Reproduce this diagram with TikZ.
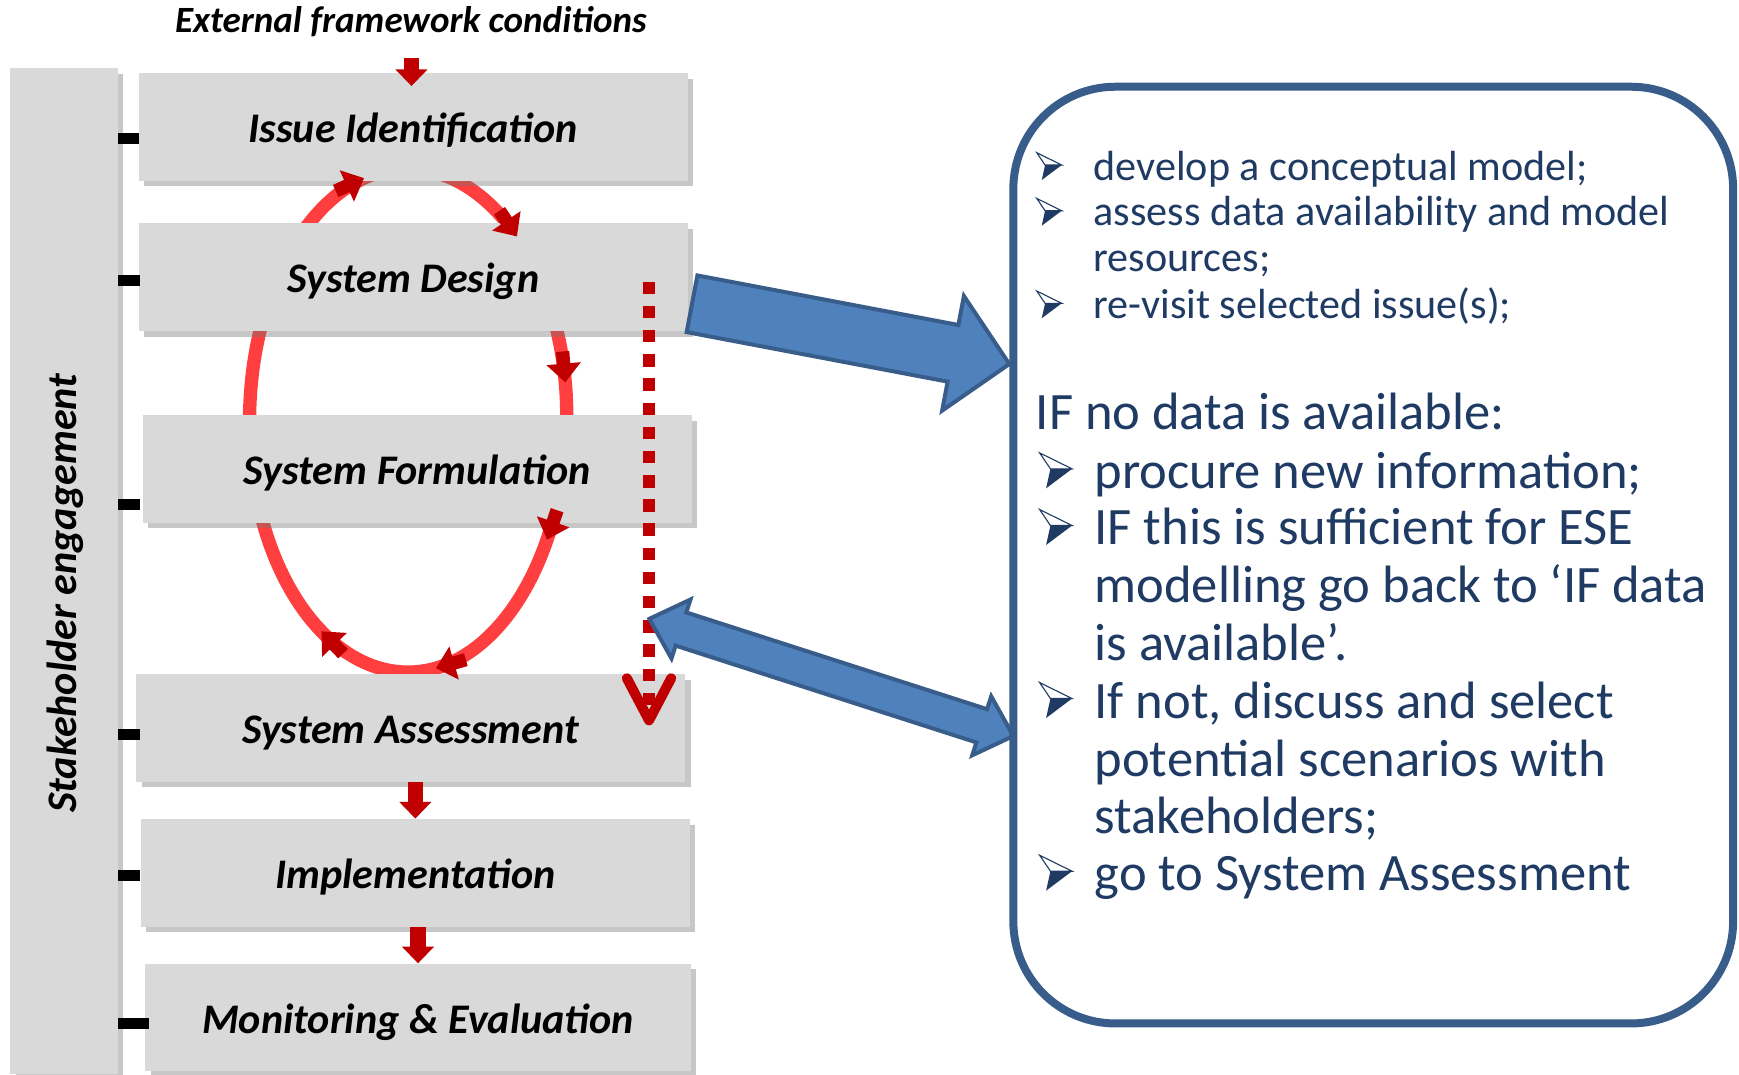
\documentclass[tikz,border=0pt]{standalone}
\usepackage{fontspec}
\setmainfont{Carlito}
\usetikzlibrary{arrows.meta,shapes.arrows,shadows,decorations.markings,calc}
\definecolor{boxgray}{HTML}{D9D9D9}
\definecolor{darkred}{HTML}{C00000}
\definecolor{loopred}{HTML}{FF3F3F}
\definecolor{bluefill}{HTML}{4F81BD}
\definecolor{blueline}{HTML}{385D8A}
\definecolor{navytext}{HTML}{1F3B64}
\newcommand\loophead{\draw[darkred, line width=6pt, -{Triangle[length=8.5pt,width=15pt]}] (-14pt,0pt) -- (0pt,0pt);}
\begin{document}
\begin{tikzpicture}[x=0.5pt,y=-0.5pt,
  stepbox/.style={fill=boxgray, minimum width=247.5pt, minimum height=48.5pt, inner sep=0pt,
    text height=14pt, text depth=0pt, font=\fontsize{19}{23}\selectfont\bfseries\itshape,
    drop shadow={shadow xshift=2.5pt, shadow yshift=-2.5pt, opacity=0.4, fill=black!55}},
  tick/.style={draw=black, line width=5pt},
  smallarrow/.style={draw=darkred, line width=7pt, -{Triangle[length=7.5pt,width=14pt]}},
  dotline/.style={draw=darkred, line width=5.25pt, dash pattern=on 5.6pt off 5.3pt,
    -{Straight Barb[length=19pt,width=20pt,line width=4.5pt,round]}},
  bluearrow/.style={fill=bluefill, draw=blueline, line width=1.8pt, inner xsep=0pt, outer sep=0pt},
  smalltxt/.style={anchor=base west, inner sep=0pt, text=navytext, font=\fontsize{19}{22}\selectfont},
  bigtxt/.style={anchor=base west, inner sep=0pt, text=navytext, font=\fontsize{23.7}{27}\selectfont},
  arrbul/.pic={
    \filldraw[fill=white, draw=navytext, line width=0.5pt, line join=miter] (1.3,-24.6) -- (23.8,-13.5) -- (8.8,-13.5) -- cycle;
    \fill[navytext] (8.8,-13.5) -- (23.8,-13.5) -- (5.8,0) -- cycle;}]
\useasboundingbox[fill=white] (0,0) rectangle (1568,968.4);

% stakeholder bar
\node[fill=boxgray, minimum width=48.5pt, minimum height=453.4pt, inner sep=0pt,
  drop shadow={shadow xshift=2.5pt, shadow yshift=-2.5pt, opacity=0.4, fill=black!55}] (bar) at (57.5,515) {};
\node[rotate=90, inner sep=0pt, font=\fontsize{19}{23}\selectfont\bfseries\itshape] (sklabel) at (59,535) {Stakeholder engagement};

% title
\node[anchor=base, inner sep=0pt, font=\fontsize{16.7}{20}\selectfont\bfseries\itshape] (title) at (370.5,29) {External framework conditions};

% red loop (under boxes)
\coordinate (LT) at (367,152);
\coordinate (LR) at (511,375);
\coordinate (LB) at (368,606);
\coordinate (LL) at (225,380);
\draw[loopred, line width=6pt] (LT) .. controls (446.5,152) and (511,251.8) .. (LR)
  .. controls (511,502.6) and (447,606) .. (LB)
  .. controls (289,606) and (225,504.8) .. (LL)
  .. controls (225,254.1) and (288.6,152) .. (LT) -- cycle;

% step boxes
\node[stepbox] (ii) at (372.5,114.5) {Issue Identification};
\node[stepbox] (sd) at (372.7,250) {System Design};
\node[stepbox] (sf) at (376.2,423) {System Formulation};
\node[stepbox] (sa) at (370.2,656.4) {System Assessment};
\node[stepbox] (im) at (374.5,787) {Implementation};
\node[stepbox, minimum width=246pt] (mo) at (376.9,917.5) {Monitoring \& Evaluation};

% ticks
\coordinate (k1) at ($(ii.west)+(1,10.3)$);
\coordinate (k2) at ($(sd.west)+(1,2.9)$);
\coordinate (k3) at ($(sf.west)+(-2,32)$);
\coordinate (k4) at ($(sa.west)+(4,5.6)$);
\coordinate (k5) at ($(im.west)+(0,2)$);
\coordinate (k6) at ($(mo.west)+(4,5.5)$);
\foreach \k in {k1,k2,k3,k4,k5,k6} {\draw[tick] (\k -| bar.east) -- (\k);}

% loop arrowheads (on top of boxes)
\path[postaction={decorate}, decoration={markings,
  mark=at position 0.103 with {\loophead},
  mark=at position 0.222 with {\loophead},
  mark=at position 0.344 with {\loophead},
  mark=at position 0.479 with {\loophead},
  mark=at position 0.576 with {\loophead},
  mark=at position 0.966 with {\loophead}}]
  (LT) .. controls (446.5,152) and (511,251.8) .. (LR)
  .. controls (511,502.6) and (447,606) .. (LB)
  .. controls (289,606) and (225,504.8) .. (LL)
  .. controls (225,254.1) and (288.6,152) .. (LT);

% small red arrows
\coordinate (ext0) at (371,52.6);
\coordinate (ext1) at ($(ext0 |- ii.north)+(0,12)$);
\draw[smallarrow] (ext0) -- (ext1);
\draw[smallarrow] (im.north |- sa.south) -- (im.north);
\draw[smallarrow] (mo.north |- im.south) -- (mo.north);

% dotted line
\coordinate (dtop) at (585.2,254);
\coordinate (dbot) at (585.2,654);
\draw[dotline] (dtop) -- (dbot);

% blue block arrows
\node[bluearrow, single arrow, inner ysep=12.1pt, single arrow head extend=13.3pt, single arrow tip angle=91,
  minimum width=50.8pt, minimum height=145.6pt, anchor=tail, rotate=-10.75] (ba1) at (624,273.9) {};
\node[bluearrow, double arrow, inner ysep=6.97pt, double arrow head extend=6.1pt, double arrow tip angle=86,
  minimum width=26.15pt, minimum height=172.4pt, rotate=-17.84] (ba2) at (749.6,610.8) {};

% info box
\node[draw=blueline, line width=3.6pt, rounded corners=46pt, minimum width=324.5pt,
  minimum height=422.3pt, inner sep=0pt] (info) at (1238.2,500.5) {};

% info text
\pic (b1) at (933.5,162.3) {arrbul};
\node[smalltxt] (t1) at (985.8,162.3) {develop a conceptual model;};
\pic (b2) at (933.5,203.5) {arrbul};
\node[smalltxt] (t2) at (985.8,203.5) {assess data availability and model};
\node[smalltxt] (t3) at (985.8,245) {resources;};
\pic (b3) at (933.5,287) {arrbul};
\node[smalltxt] (t4) at (985.8,287) {re-visit selected issue(s);};
\node[bigtxt] (t5) at (933.5,387.7) {IF no data is available:};
\pic[scale=1.3] (b4) at (935.7,440.3) {arrbul};
\node[bigtxt] (t6) at (986.6,440.3) {procure new information;};
\pic[scale=1.3] (b5) at (935.7,491.4) {arrbul};
\node[bigtxt] (t7) at (986.6,491.4) {IF this is sufficient for ESE};
\node[bigtxt] (t8) at (986.6,543.4) {modelling go back to ‘IF data};
\node[bigtxt] (t9) at (986.6,595.1) {is available’.};
\pic[scale=1.3] (b6) at (935.7,647.4) {arrbul};
\node[bigtxt] (t10) at (986.6,647.4) {If not, discuss and select};
\node[bigtxt] (t11) at (986.6,700.3) {potential scenarios with};
\node[bigtxt] (t12) at (986.6,751.4) {stakeholders;};
\pic[scale=1.3] (b7) at (935.7,803.1) {arrbul};
\node[bigtxt] (t13) at (986.6,803.1) {go to System Assessment};
\end{tikzpicture}
\end{document}
